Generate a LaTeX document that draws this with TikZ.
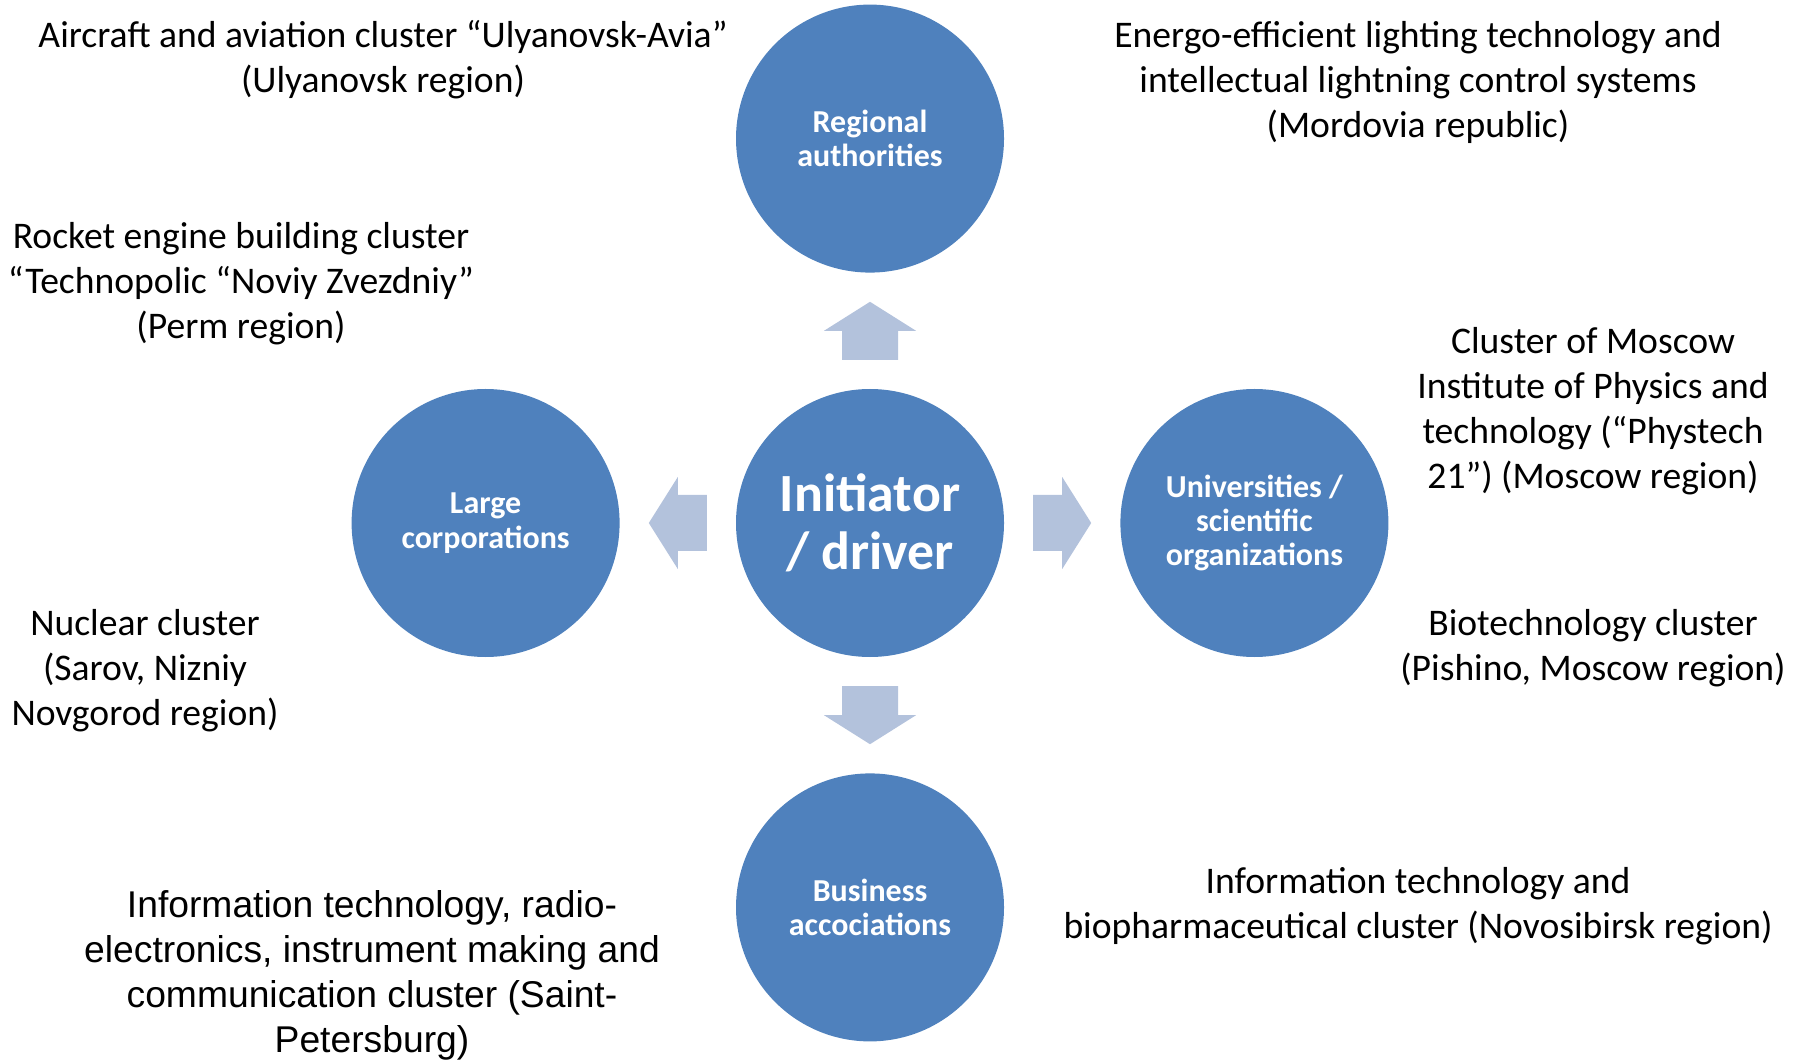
\documentclass[tikz,border=0pt]{standalone}
\usepackage{fontspec}
\setmainfont{Carlito}
\newfontfamily\arialfont{Liberation Sans}
\usetikzlibrary{positioning, calc}

\definecolor{circleblue}{HTML}{4F81BD}
\definecolor{arrowblue}{HTML}{B3C2DC}

\tikzset{
	actor/.style = {circle, fill=circleblue, minimum size=2.68cm, inner sep=0pt, text=white, align=center, font=\bfseries\fontsize{9.1}{9.8}\selectfont},
	cluster/.style = {align=center, font=\fontsize{10.7}{12.8}\selectfont},
	flow/.style = {fill=arrowblue},
}

% block arrow: position, angle
\newcommand{\flowarrow}[2]{%
	\fill [flow, shift={(#1)}, rotate=#2] (-0.29,-0.28) -- (0,-0.28) -- (0,-0.46) -- (0.29,0) -- (0,0.46) -- (0,0.28) -- (-0.29,0.28) -- cycle;}

\begin{document}
\begin{tikzpicture}
	\useasboundingbox (0,0) rectangle (17.96,10.59);
	
	\node [actor, font=\bfseries\fontsize{15.3}{16.5}\selectfont] (driver) at (8.70,5.36) {Initiator\\/ driver};
	\node [actor, above=1.15cm of driver] (regional) {Regional\\authorities};
	\node [actor, left=1.15cm of driver] (corporations) {Large\\corporations};
	\node [actor, right=1.15cm of driver] (universities) {Universities /\\scientific\\organizations};
	\node [actor, below=1.15cm of driver] (business) {Business\\accociations};
	
	\coordinate (up) at ($(driver)!0.5!(regional)$);
	\coordinate (down) at ($(driver)!0.5!(business)$);
	\coordinate (left) at ($(driver)!0.5!(corporations)$);
	\coordinate (right) at ($(driver)!0.5!(universities)$);
	\flowarrow{up}{90}
	\flowarrow{down}{-90}
	\flowarrow{left}{180}
	\flowarrow{right}{0}
	
	\node [cluster] (avia) at (3.83,9.99) {Aircraft and aviation cluster “Ulyanovsk-Avia”\\(Ulyanovsk region)};
	\node [cluster] (rocket) at (2.41,7.75) {Rocket engine building cluster\\“Technopolic “Noviy Zvezdniy”\\(Perm region)};
	\node [cluster] (nuclear) at (1.45,3.88) {Nuclear cluster\\(Sarov, Nizniy\\Novgorod region)};
	\node [cluster, font=\arialfont\fontsize{10.6}{12.8}\selectfont] (spb) at (3.72,0.84) {Information technology, radio-\\electronics, instrument making and\\communication cluster (Saint-\\Petersburg)};
	
	\node [cluster] (lighting) at (14.18,9.77) {Energo-efficient lighting technology and\\intellectual lightning control systems\\(Mordovia republic)};
	\node [cluster] (phystech) at (15.93,6.48) {Cluster of Moscow\\Institute of Physics and\\technology (“Phystech\\21”) (Moscow region)};
	\node [cluster] (biotech) at (15.93,4.105) {Biotechnology cluster\\(Pishino, Moscow region)};
	\node [cluster] (novosibirsk) at (14.18,1.53) {Information technology and\\biopharmaceutical cluster (Novosibirsk region)};
\end{tikzpicture}
\end{document}
